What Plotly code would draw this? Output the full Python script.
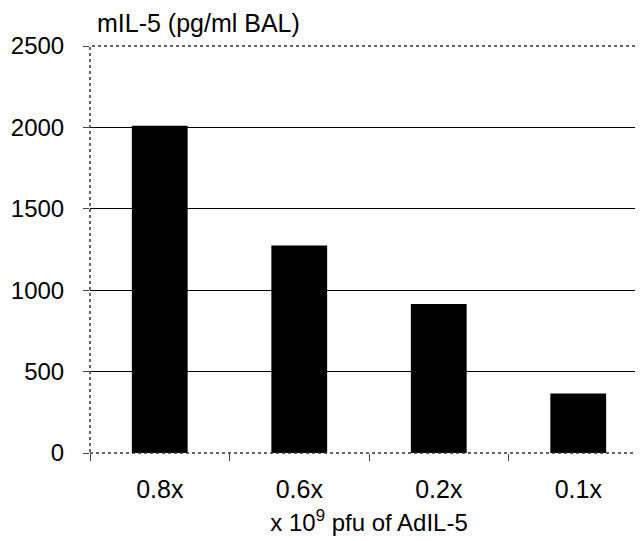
import plotly.graph_objects as go

categories = ["0.8x", "0.6x", "0.2x", "0.1x"]
values = [2010, 1275, 915, 365]
y_ticks = [0, 500, 1000, 1500, 2000, 2500]

FONT = "Liberation Sans, Arial, sans-serif"

fig = go.Figure()
fig.add_trace(go.Bar(
    x=categories, y=values, width=0.4,
    marker=dict(color="black", line=dict(width=0)),
))

fig.update_layout(
    width=643, height=541,
    margin=dict(l=82, r=3, t=38, b=96),
    paper_bgcolor="white", plot_bgcolor="white",
    showlegend=False,
    font=dict(family=FONT, size=24, color="black"),
    title=dict(text="mIL-5 (pg/ml BAL)", xref="container", x=89/643, xanchor="left",
               yref="container", y=1-15/541, yanchor="middle",
               font=dict(family=FONT, size=25, color="black")),
    xaxis=dict(
        range=[-0.5, 3.5], automargin=False,
        showgrid=False, showline=False, zeroline=False,
        ticks="outside", tickson="boundaries", ticklen=7, tickcolor="#444",
        ticklabelstandoff=19,
        tickfont=dict(family=FONT, size=25),
        title=dict(text="x 10<sup>9</sup> pfu of AdIL-5", standoff=12,
                   font=dict(family=FONT, size=24)),
    ),
    yaxis=dict(
        range=[0, 2500], tickvals=y_ticks, automargin=False,
        showgrid=True, gridcolor="black", gridwidth=1,
        showline=False, zeroline=False,
        ticks="outside", ticklen=6, tickcolor="#444",
        ticklabelstandoff=14,
        tickfont=dict(family=FONT, size=24),
    ),
)

fig.add_shape(type="rect", xref="x domain", yref="y domain", x0=0, x1=1, y0=0, y1=1,
              line=dict(color="#333", width=1.5, dash="dot"), layer="above")

fig.write_html("out.html")
